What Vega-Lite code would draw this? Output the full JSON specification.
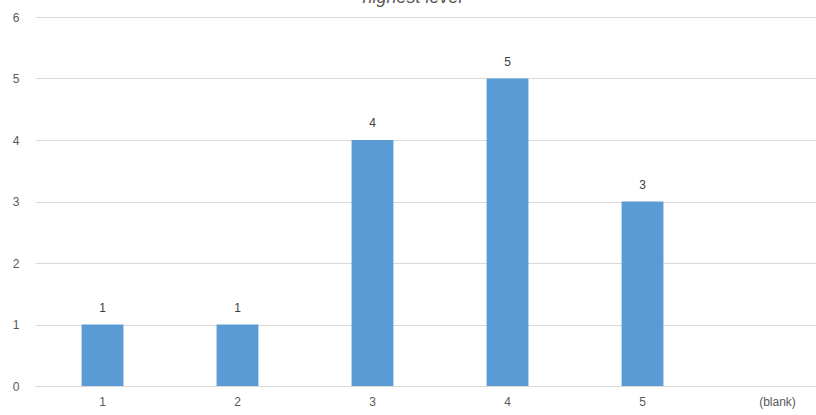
{
  "$schema": "https://vega.github.io/schema/vega-lite/v6.json",
  "autosize": {"type": "none"},
  "padding": {"left": 35, "top": 17, "right": 0, "bottom": 29},
  "width": 781,
  "height": 369,
  "background": "white",
  "title": {
    "text": "highest level",
    "font": "Liberation Sans",
    "fontSize": 18,
    "fontStyle": "italic",
    "fontWeight": "normal",
    "color": "#595959",
    "baseline": "alphabetic",
    "offset": 0,
    "dy": 10,
    "anchor": "middle",
    "frame": "group",
    "dx": -13
  },
  "config": {
    "view": {"stroke": null},
    "font": "Liberation Sans"
  },
  "data": {
    "values": [
      {"category": "1", "count": 1},
      {"category": "2", "count": 1},
      {"category": "3", "count": 4},
      {"category": "4", "count": 5},
      {"category": "5", "count": 3}
    ]
  },
  "encoding": {
    "x": {
      "field": "category",
      "type": "nominal",
      "sort": null,
      "scale": {"domain": ["1", "2", "3", "4", "5", "(blank)"], "range": [0, 810], "paddingInner": 0.69, "paddingOuter": 0.345},
      "axis": {
        "title": null,
        "labelAngle": 0,
        "labelFont": "Liberation Sans",
        "labelFontSize": 12,
        "labelColor": "#595959",
        "ticks": false,
        "domainColor": "#d9d9d9",
        "labelPadding": 10,
        "labelOverlap": false
      }
    },
    "y": {
      "field": "count",
      "type": "quantitative",
      "scale": {"domain": [0, 6]},
      "axis": {
        "title": null,
        "values": [0, 1, 2, 3, 4, 5, 6],
        "domain": false,
        "ticks": false,
        "labelFont": "Liberation Sans",
        "labelFontSize": 12,
        "labelColor": "#595959",
        "labelPadding": 16,
        "labelOverlap": false,
        "gridColor": "#d9d9d9",
        "format": "d"
      }
    }
  },
  "layer": [
    {"mark": {"type": "bar", "color": "#5B9BD5"}},
    {
      "mark": {"type": "text", "dy": -17, "baseline": "middle", "font": "Liberation Sans", "fontSize": 12, "color": "#404040"},
      "encoding": {"text": {"field": "count", "type": "quantitative"}}
    }
  ]
}
